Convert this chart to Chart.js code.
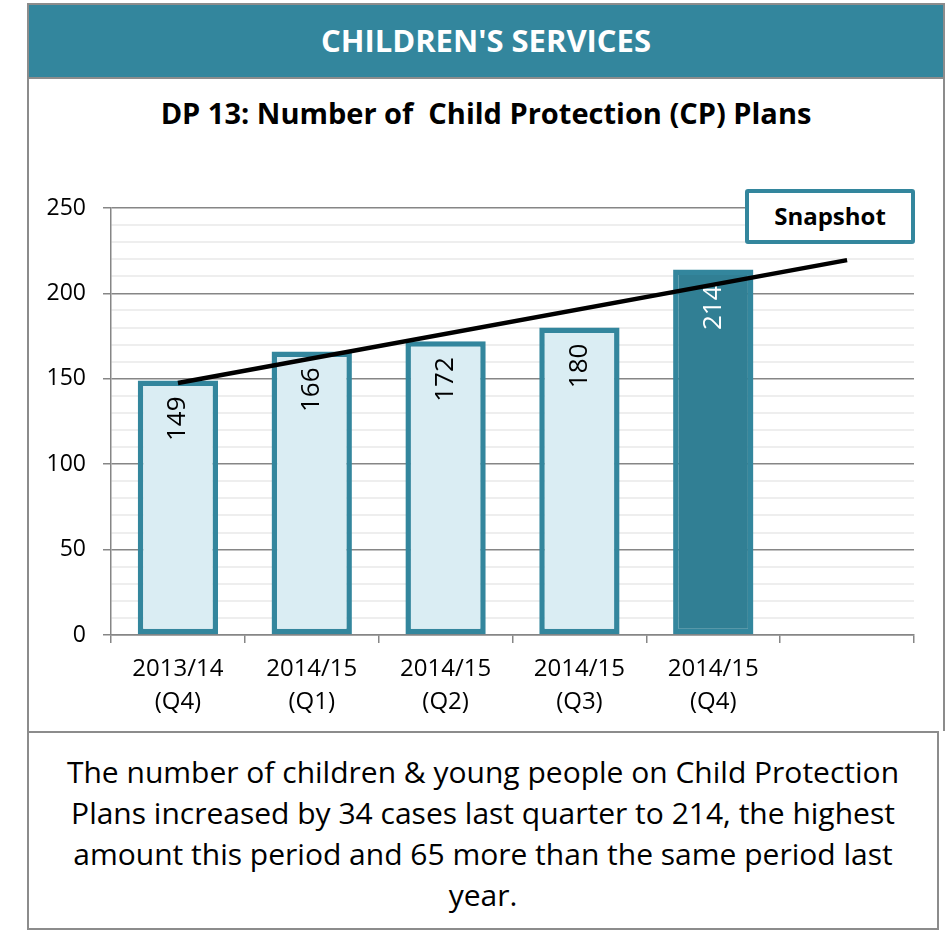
<!DOCTYPE html>
<html>
<head>
<meta charset="utf-8">
<script src="https://cdn.jsdelivr.net/npm/chart.js@4.4.1/dist/chart.umd.min.js"></script>
<style>
  body { margin: 0; background: #fff; font-family: "Open Sans", sans-serif; }
  #panel { position: absolute; left: 27px; top: 3px; width: 914px; height: 726px; border: 2px solid #8c8c8c; border-bottom: none; }
  #header { position: absolute; left: 0; top: 0; width: 914px; height: 72px; background: #33869d; color: #fff;
            font-weight: bold; font-size: 31px; text-align: center; line-height: 70px; border-bottom: 2px solid #8c8c8c; }
  #title { position: absolute; left: 0; top: 88px; width: 914px; text-align: center; font-weight: bold; font-size: 29px; color: #000; white-space: nowrap; }
  #wrap { position: absolute; left: 28px; top: 140px; width: 915px; height: 591px; }
  #snap { position: absolute; left: 745px; top: 189px; width: 162px; height: 47px; border: 4px solid #33869d; border-radius: 3px;
          background: #fff; font-weight: bold; font-size: 24px; text-align: center; line-height: 46px; color: #000; }
  #note { position: absolute; left: 27px; top: 731px; width: 912px; height: 199px; border: 2px solid #8c8c8c;
          font-size: 30px; line-height: 41px; text-align: center; color: #000; box-sizing: border-box; padding: 18px 0 0; white-space: nowrap; }
</style>
</head>
<body>
<div id="panel">
  <div id="header">CHILDREN'S SERVICES</div>
  <div id="title">DP 13: Number of&nbsp; Child Protection (CP) Plans</div>
</div>
<div id="wrap"><canvas id="chart" width="915" height="591"></canvas></div>
<div id="snap">Snapshot</div>
<div id="note">The number of children &amp; young people on Child Protection<br>Plans increased by 34 cases last quarter to 214, the highest<br>amount this period and 65 more than the same period last<br>year.</div>
<script>
const periods = [["2013/14", "(Q4)"], ["2014/15", "(Q1)"], ["2014/15", "(Q2)"], ["2014/15", "(Q3)"], ["2014/15", "(Q4)"], ""];
const cpPlans = [149, 166, 172, 180, 214, null];
const trend = [147.5, null, null, null, null, 219.5];

const teal = "#33869d";
const light = "#daedf3";
const barFills = [light, light, light, light, "#317f94", light];
const labelColors = ["#000", "#000", "#000", "#000", "#fff", "#000"];

// rotated value labels at the top inside each bar (bars are dataset 1)
const barLabels = {
  id: "barLabels",
  afterDatasetDraw(chart, args) {
    if (args.index !== 1) return;
    const ctx = chart.ctx;
    const meta = chart.getDatasetMeta(1);
    meta.data.forEach((bar, i) => {
      if (cpPlans[i] == null) return;
      ctx.save();
      ctx.translate(bar.x, bar.y + 16);
      ctx.rotate(-Math.PI / 2);
      ctx.font = "26px 'Open Sans'";
      ctx.fillStyle = labelColors[i];
      ctx.textAlign = "right";
      ctx.textBaseline = "middle";
      ctx.fillText(String(cpPlans[i]), 0, 0);
      ctx.restore();
    });
  }
};

new Chart(document.getElementById("chart"), {
  type: "bar",
  plugins: [barLabels],
  data: {
    labels: periods,
    datasets: [
      {
        type: "line",
        data: trend,
        borderColor: "#000",
        borderWidth: 4.5,
        pointRadius: 0,
        spanGaps: true,
        order: 0
      },
      {
        data: cpPlans,
        backgroundColor: barFills,
        borderColor: teal,
        borderWidth: 5.5,
        borderSkipped: false,
        categoryPercentage: 1,
        barPercentage: 0.6,
        order: 1
      }
    ]
  },
  options: {
    responsive: false,
    animation: false,
    layout: { padding: { top: 68, right: 29, left: 0, bottom: 0 } },
    plugins: { legend: { display: false }, tooltip: { enabled: false } },
    scales: {
      x: {
        afterFit: (s) => { s.height = 96; },
        grid: { drawOnChartArea: false, drawTicks: true, tickLength: 8, color: "#868686", lineWidth: 1.5 },
        border: { color: "#868686", width: 1.5 },
        ticks: { color: "#000", font: { family: "Open Sans", size: 24, lineHeight: 1.4 }, padding: 9, maxRotation: 0 }
      },
      y: {
        min: 0,
        max: 250,
        afterFit: (s) => { s.width = 83; },
        grid: {
          color: (c) => (c.tick.value % 50 === 0 ? "#868686" : "#eeeeee"),
          lineWidth: (c) => (c.tick.value % 50 === 0 ? 1.5 : 2),
          tickColor: (c) => (c.tick.value % 50 === 0 ? "#868686" : "rgba(0,0,0,0)"),
          tickLength: 8
        },
        border: { color: "#868686", width: 1.5 },
        ticks: {
          stepSize: 10,
          autoSkip: false,
          color: "#000",
          padding: 17,
          font: { family: "Open Sans", size: 23 },
          callback: (v) => (v % 50 === 0 ? v : "")
        }
      }
    }
  }
});
</script>
</body>
</html>
